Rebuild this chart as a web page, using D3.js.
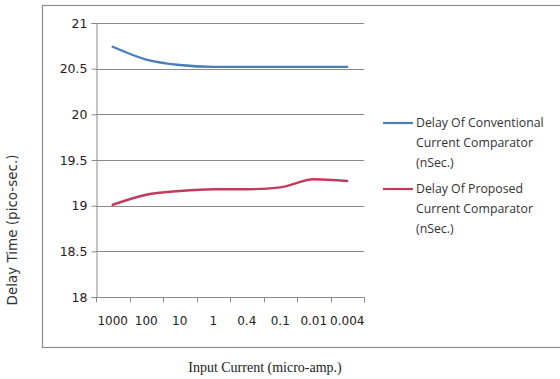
<!DOCTYPE html>
<html>
<head>
<meta charset="utf-8">
<script src="https://cdn.jsdelivr.net/npm/d3@7"></script>
<style>
  body { margin: 0; background: #fff; }
</style>
</head>
<body>
<div id="svg_container"></div>
<script>
// chart values
const categories = ["1000", "100", "10", "1", "0.4", "0.1", "0.01", "0.004"];
const conventional = [20.74, 20.60, 20.54, 20.52, 20.52, 20.52, 20.52, 20.52];
const proposed = [19.01, 19.12, 19.16, 19.18, 19.18, 19.20, 19.29, 19.27];
const yTicks = [18, 18.5, 19, 19.5, 20, 20.5, 21];
const seriesNames = [
    ["Delay Of Conventional", "Current Comparator", "(nSec.)"],
    ["Delay Of Proposed", "Current Comparator", "(nSec.)"]
];
const colors = ["#4a7ebb", "#c23b5c"];

const W = 560, H = 379;
const margin = { top: 23, left: 96 },
    width = 364 - margin.left,
    height = 297 - margin.top;

const svg = d3.select("#svg_container")
    .append("svg")
    .attr("width", W)
    .attr("height", H);

// outer frame
svg.append("rect")
    .attr("x", 42.5).attr("y", 5.5)
    .attr("width", 560).attr("height", 342)
    .attr("fill", "none")
    .attr("stroke", "#8c8c8c")
    .attr("stroke-width", 1.2);

const g = svg.append("g")
    .attr("transform", `translate(${margin.left}, ${margin.top})`);

const x = d3.scaleBand()
    .domain(categories)
    .range([0, width]);

const y = d3.scaleLinear()
    .domain([18, 21])
    .range([height, 0]);

// gridlines
g.append("g")
    .selectAll("line")
    .data(yTicks.slice(1))
    .enter()
    .append("line")
    .attr("x1", 0)
    .attr("x2", width)
    .attr("y1", d => Math.round(y(d)) + 0.5)
    .attr("y2", d => Math.round(y(d)) + 0.5)
    .attr("stroke", "#8a8a8a")
    .attr("stroke-width", 1);

// Y axis
const yAxis = g.append("g")
    .attr("transform", "translate(0.5,0)")
    .call(d3.axisLeft(y).tickValues(yTicks).tickSize(5).tickFormat(d => d));
yAxis.select(".domain").attr("stroke", "#8a8a8a");
yAxis.selectAll(".tick line").attr("stroke", "#8a8a8a");
yAxis.selectAll("text")
    .attr("x", -9)
    .attr("font-family", "DejaVu Sans")
    .attr("font-size", 12.5)
    .attr("fill", "#222");

// X axis with ticks between categories
const xAxis = g.append("g")
    .attr("transform", `translate(0, ${Math.round(height) + 0.5})`);
xAxis.append("line")
    .attr("x1", 0).attr("x2", width)
    .attr("stroke", "#8a8a8a");
xAxis.selectAll(".xtick")
    .data(d3.range(categories.length + 1))
    .enter()
    .append("line")
    .attr("x1", i => Math.round(i * x.step()) + 0.5)
    .attr("x2", i => Math.round(i * x.step()) + 0.5)
    .attr("y1", 0).attr("y2", 5)
    .attr("stroke", "#8a8a8a");
xAxis.selectAll(".xlabel")
    .data(categories)
    .enter()
    .append("text")
    .attr("x", d => x(d) + x.bandwidth() / 2)
    .attr("y", 27)
    .attr("text-anchor", "middle")
    .attr("font-family", "DejaVu Sans")
    .attr("font-size", 12)
    .attr("fill", "#222")
    .text(d => d);

// series lines
const line = d3.line()
    .x((d, i) => x(categories[i]) + x.bandwidth() / 2)
    .y(d => y(d))
    .curve(d3.curveMonotoneX);

[conventional, proposed].forEach(function (vals, k) {
    g.append("path")
        .datum(vals)
        .attr("d", line)
        .attr("fill", "none")
        .attr("stroke", colors[k])
        .attr("stroke-width", 2.4)
        .attr("stroke-linecap", "round");
});

// legend
const legendY = [123, 189];
seriesNames.forEach(function (lines, k) {
    svg.append("line")
        .attr("x1", 383).attr("x2", 413)
        .attr("y1", legendY[k]).attr("y2", legendY[k])
        .attr("stroke", colors[k])
        .attr("stroke-width", 2.2);
    lines.forEach(function (t, j) {
        svg.append("text")
            .attr("x", 416)
            .attr("y", legendY[k] + 4 + j * 20)
            .attr("font-family", "Open Sans")
            .attr("font-size", 12.3)
            .attr("fill", "#333")
            .text(t);
    });
});

// axis titles
svg.append("text")
    .attr("transform", "translate(17, 230) rotate(-90)")
    .attr("text-anchor", "middle")
    .attr("font-family", "DejaVu Sans")
    .attr("font-size", 13.5)
    .attr("fill", "#333")
    .text("Delay Time (pico-sec.)");

svg.append("text")
    .attr("x", 265)
    .attr("y", 372)
    .attr("text-anchor", "middle")
    .attr("font-family", "Liberation Serif")
    .attr("font-size", 14)
    .attr("fill", "#222")
    .text("Input Current (micro-amp.)");
</script>
</body>
</html>
